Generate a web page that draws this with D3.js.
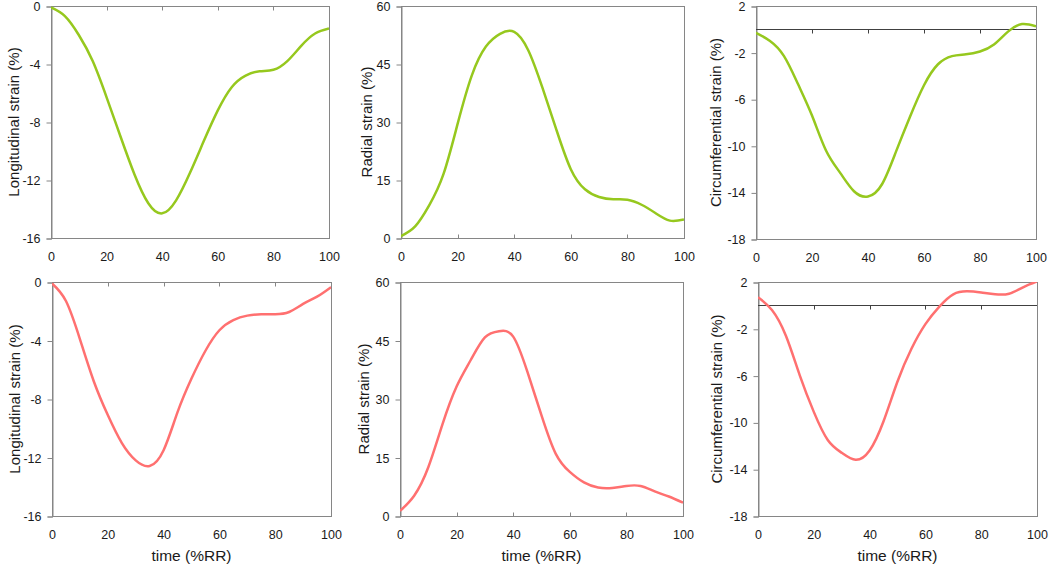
<!DOCTYPE html>
<html>
<head>
<meta charset="utf-8">
<script src="https://cdn.jsdelivr.net/npm/d3@7"></script>
<style>
  html, body { margin: 0; padding: 0; background: #fff; }
  svg { display: block; font-family: Arial, "Liberation Sans", sans-serif; }
</style>
</head>
<body>
<svg id="chart" width="1050" height="566"></svg>
<script>
// ---- data ----
const timeRR = [0, 5, 10, 15, 20, 25, 30, 35, 40, 45, 50, 55, 60, 65, 70, 75, 80, 85, 90, 95, 100];
const xTicks = [0, 20, 40, 60, 80, 100];

const longTicks = [0, -4, -8, -12, -16];
const radTicks = [0, 15, 30, 45, 60];
const circTicks = [2, -2, -6, -10, -14, -18];

// top row (green)
const longGreen = [-0.1, -0.7, -2.0, -3.8, -6.3, -9.0, -11.6, -13.6, -14.3, -13.4, -11.5, -9.3, -7.2, -5.6, -4.8, -4.5, -4.4, -3.8, -2.75, -1.9, -1.55];
const radGreen  = [0.5, 3.0, 8.5, 16.5, 29.5, 42.0, 49.5, 52.8, 53.3, 48.5, 38.8, 27.8, 17.8, 12.6, 10.6, 10.0, 9.9, 8.6, 6.4, 4.5, 4.8];
const circGreen = [-0.3, -1.0, -2.3, -4.7, -7.4, -10.4, -12.3, -13.9, -14.35, -13.3, -10.5, -7.5, -4.8, -3.0, -2.3, -2.15, -1.9, -1.3, -0.2, 0.45, 0.25];

// bottom row (red)
const longRed = [-0.1, -1.3, -3.9, -6.8, -9.1, -11.0, -12.2, -12.58, -11.5, -8.9, -6.6, -4.7, -3.3, -2.6, -2.3, -2.2, -2.2, -2.05, -1.5, -1.0, -0.35];
const radRed  = [1.3, 5.2, 12.5, 23.5, 33.2, 40.0, 45.8, 47.4, 46.0, 37.0, 25.8, 16.0, 11.3, 8.6, 7.3, 7.2, 7.7, 7.7, 6.3, 5.0, 3.4];
const circRed = [0.7, -0.4, -2.6, -6.0, -9.1, -11.5, -12.6, -13.2, -12.4, -9.9, -6.5, -3.7, -1.6, -0.1, 0.95, 1.2, 1.1, 0.95, 1.0, 1.55, 2.05];

const yTitles = { long: "Longitudinal strain (%)", rad: "Radial strain (%)", circ: "Circumferential strain (%)" };
const xTitle = "time (%RR)";

const green = "#96c81e";
const red = "#ff7070";

// ---- layout ----
const panels = [
  { kind: "long", values: longGreen, color: green, box: [51, 329, 6, 238], ticks: longTicks, domain: [-16, 0], titleOff: 37, xTitle: false },
  { kind: "rad",  values: radGreen,  color: green, box: [401, 684, 6, 238], ticks: radTicks,  domain: [0, 60],  titleOff: 34, xTitle: false },
  { kind: "circ", values: circGreen, color: green, box: [756, 1036, 6, 239], ticks: circTicks, domain: [-18, 2], titleOff: 40, xTitle: false },
  { kind: "long", values: longRed,   color: red,   box: [52, 331, 282, 516], ticks: longTicks, domain: [-16, 0], titleOff: 37, xTitle: true },
  { kind: "rad",  values: radRed,    color: red,   box: [400, 683, 282, 516], ticks: radTicks,  domain: [0, 60],  titleOff: 36, xTitle: true },
  { kind: "circ", values: circRed,   color: red,   box: [758, 1037, 282, 516], ticks: circTicks, domain: [-18, 2], titleOff: 41, xTitle: true }
];

const svg = d3.select("#chart");
const frameColor = "#868686";

panels.forEach((p, i) => {
  const [x0, x1, y0, y1] = p.box;
  const x = d3.scaleLinear().domain([0, 100]).range([x0, x1]);
  const y = d3.scaleLinear().domain(p.domain).range([y1, y0]);
  const g = svg.append("g");

  const clipId = "clip" + i;
  svg.append("clipPath").attr("id", clipId)
    .append("rect").attr("x", x0).attr("y", y0).attr("width", x1 - x0).attr("height", y1 - y0);

  g.append("rect")
    .attr("x", x0 + 0.5).attr("y", y0 + 0.5)
    .attr("width", x1 - x0).attr("height", y1 - y0)
    .attr("fill", "none").attr("stroke", frameColor).attr("stroke-width", 1);

  const yAxis = d3.axisLeft(y).tickValues(p.ticks).tickSize(5).tickPadding(6).tickFormat(d => String(d));
  const ya = g.append("g").attr("transform", `translate(${x0 + 0.5},0.5)`).call(yAxis);
  ya.select(".domain").attr("stroke", frameColor);
  ya.selectAll(".tick line").attr("stroke", frameColor);
  ya.selectAll("text").attr("font-size", 12.5).attr("fill", "#1a1a1a")
    .attr("font-family", "Arial, 'Liberation Sans', sans-serif");

  const xAxis = d3.axisBottom(x).tickValues(xTicks).tickSize(0).tickPadding(14.5).tickFormat(d => String(d));
  const xa = g.append("g").attr("transform", `translate(0,${y1})`).call(xAxis);
  xa.select(".domain").remove();
  xa.selectAll("text").attr("font-size", 12.5).attr("fill", "#1a1a1a")
    .attr("font-family", "Arial, 'Liberation Sans', sans-serif");

  const yZero = Math.round(y(0)) + 0.5;
  const zeroInside = y(0) > y0 + 1 && y(0) < y1 - 1;
  if (zeroInside) {
    g.append("line").attr("x1", x0).attr("x2", x1).attr("y1", yZero).attr("y2", yZero)
      .attr("stroke", "#404040").attr("stroke-width", 1);
  }
  const tickDir = (y(0) >= y1 - 1) ? -1 : 1;
  g.selectAll(".xt").data(xTicks.filter(t => t > 0 && t < 100)).enter().append("line")
    .attr("x1", d => Math.round(x(d)) + 0.5).attr("x2", d => Math.round(x(d)) + 0.5)
    .attr("y1", yZero).attr("y2", yZero + tickDir * 4)
    .attr("stroke", zeroInside ? "#404040" : frameColor);

  const line = d3.line()
    .x((d, j) => x(timeRR[j]))
    .y(d => y(d))
    .curve(d3.curveNatural);
  g.append("path").datum(p.values)
    .attr("clip-path", `url(#${clipId})`)
    .attr("d", line)
    .attr("fill", "none")
    .attr("stroke", p.color)
    .attr("stroke-width", 2.5)
    .attr("stroke-linejoin", "round");

  const cy = (y0 + y1) / 2;
  g.append("text")
    .attr("transform", `translate(${x0 - p.titleOff},${cy}) rotate(-90)`)
    .attr("text-anchor", "middle")
    .attr("dy", "0.35em")
    .attr("font-size", 15)
    .attr("fill", "#1a1a1a")
    .text(yTitles[p.kind]);

  if (p.xTitle) {
    g.append("text")
      .attr("x", (x0 + x1) / 2)
      .attr("y", 561)
      .attr("text-anchor", "middle")
      .attr("font-size", 15.5)
      .attr("fill", "#1a1a1a")
      .text(xTitle);
  }
});
</script>
</body>
</html>
